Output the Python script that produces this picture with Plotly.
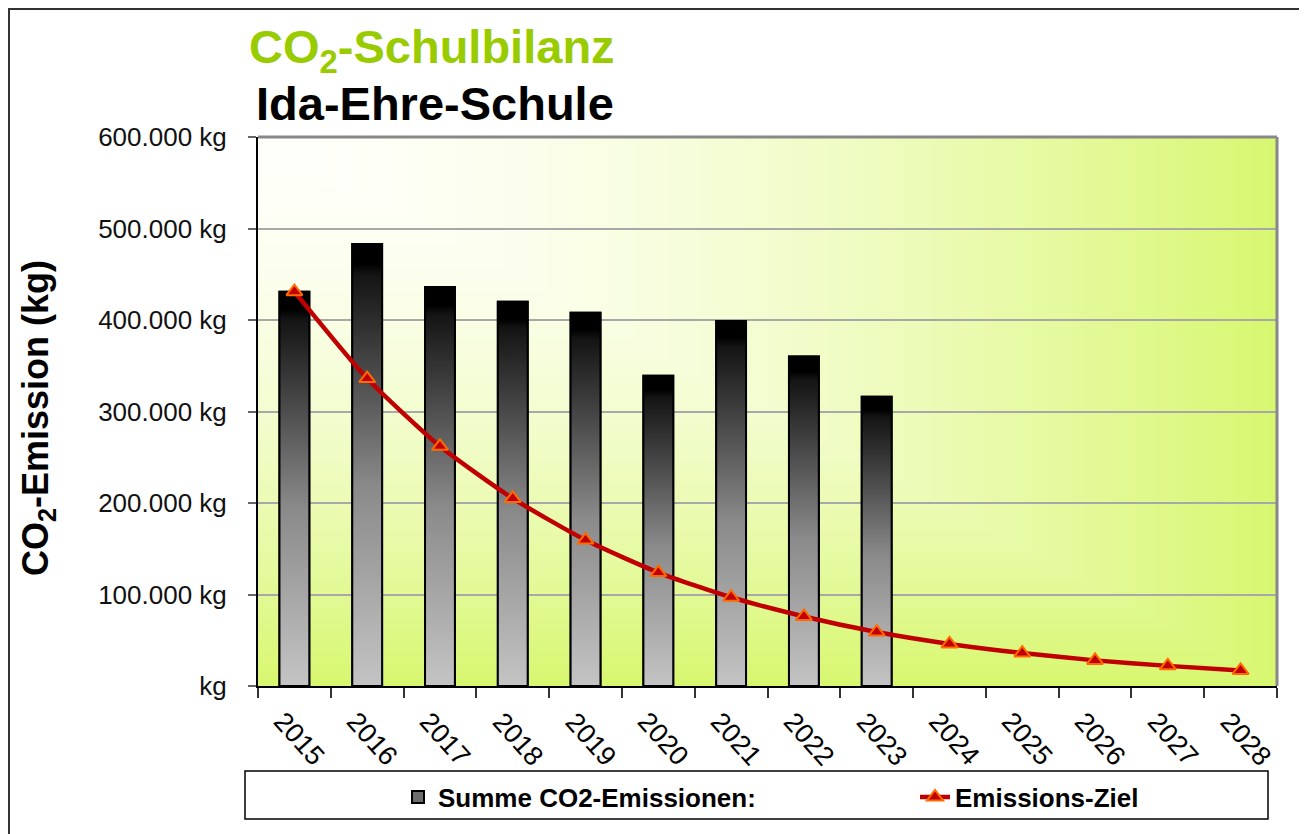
import base64, struct, zlib
import numpy as np
import plotly.graph_objects as go

# ---------------- data ----------------
years = [2015, 2016, 2017, 2018, 2019, 2020, 2021, 2022, 2023, 2024, 2025, 2026, 2027, 2028]
bar_years = [2015, 2016, 2017, 2018, 2019, 2020, 2021, 2022, 2023]
emissions = [431000, 483000, 436000, 420000, 408000, 339000, 399000, 360000, 316000]
target = [431000, 336000, 262000, 205000, 159500, 124000, 97000, 76000, 59000,
          46000, 36000, 28000, 22000, 17000]
y_tickvals = [0, 100000, 200000, 300000, 400000, 500000, 600000]
y_ticktext = ["kg", "100.000 kg", "200.000 kg", "300.000 kg", "400.000 kg", "500.000 kg", "600.000 kg"]
bar_name = "Summe CO2-Emissionen:"
line_name = "Emissions-Ziel"

BAR_W = 0.41
FONT = "Liberation Sans, Arial, sans-serif"

# ---------------- background gradient image (Excel 'from corner') ----------------
def make_png(arr):
    h, w, _ = arr.shape
    raw = b"".join(b"\x00" + arr[r].tobytes() for r in range(h))
    def chunk(t, d):
        c = struct.pack(">I", len(d)) + t + d
        return c + struct.pack(">I", zlib.crc32(t + d) & 0xffffffff)
    png = b"\x89PNG\r\n\x1a\n"
    png += chunk(b"IHDR", struct.pack(">IIBBBBB", w, h, 8, 2, 0, 0, 0))
    png += chunk(b"IDAT", zlib.compress(raw, 9))
    png += chunk(b"IEND", b"")
    return "data:image/png;base64," + base64.b64encode(png).decode()

IW, IH = 300, 160
gx = np.linspace(0, 1, IW)[None, :]
gy = np.linspace(0, 1, IH)[:, None]
t = np.maximum(gx, gy) ** 1.7
c0 = np.array([255, 255, 250], dtype=float)
c1 = np.array([216, 247, 112], dtype=float)
img = (c0[None, None, :] + (c1 - c0)[None, None, :] * t[:, :, None]).round().astype(np.uint8)
bg_src = make_png(img)

fig = go.Figure()

# bars (legend entry + base)
fig.add_trace(go.Bar(
    x=bar_years, y=emissions, width=BAR_W, name=bar_name, legend="legend",
    marker=dict(color="#6e6e6e", line=dict(color="black", width=2)),
    hoverinfo="x+y",
))

# gradient overlay for each bar
for yr, v in zip(bar_years, emissions):
    x0, x1 = yr - BAR_W / 2, yr + BAR_W / 2
    fig.add_trace(go.Scatter(
        x=[x0, x0, x1, x1, x0], y=[0, v, v, 0, 0],
        mode="lines", fill="toself",
        fillgradient=dict(type="vertical",
                          colorscale=[[0, "#c4c4c4"], [0.45, "#8a8a8a"], [0.93, "#141414"],
                                      [0.955, "#000000"], [1, "#000000"]],
                          start=0, stop=v),
        line=dict(color="black", width=2),
        showlegend=False, hoverinfo="skip",
    ))

# target line
fig.add_trace(go.Scatter(
    x=years, y=target, name=line_name, mode="lines+markers", legend="legend2",
    line=dict(color="#c00000", width=4.5, shape="spline", smoothing=0.6),
    marker=dict(symbol="triangle-up", size=14, color="#c00000",
                line=dict(color="#ff6a00", width=2)),
))

# ---------------- layout ----------------
OFF = 8  # page body margin of the html page
L, T = 258 - OFF, 137 - OFF
PW, PH = 1019, 549
R = 1307 - L - PW
B = 834 - T - PH

def px(xs):
    return (xs - OFF - L) / PW

def py(ys):
    return (T + PH - (ys - OFF)) / PH

shapes = [
    # outer frame
    dict(type="rect", xref="paper", yref="paper", x0=px(9), x1=px(1305), y0=py(850), y1=py(9),
         line=dict(color="#333333", width=2), fillcolor="rgba(0,0,0,0)", layer="below"),
    # plot area top/right gray border
    dict(type="line", xref="paper", yref="paper", x0=0, x1=1, y0=1, y1=1,
         line=dict(color="#888888", width=3)),
    dict(type="line", xref="paper", yref="paper", x0=1, x1=1, y0=0, y1=1,
         line=dict(color="#888888", width=3)),
    # legend frame
    dict(type="rect", xref="paper", yref="paper", x0=px(245), x1=px(1268), y0=py(819), y1=py(771),
         line=dict(color="black", width=1.5), fillcolor="rgba(0,0,0,0)"),
]

annotations = [
    dict(text="CO<sub>2</sub>-Schulbilanz", xref="paper", yref="paper", x=px(247), y=py(50),
         xanchor="left", yanchor="middle", showarrow=False,
         font=dict(family=FONT, size=47, color="#99cc00", weight="bold")),
    dict(text="Ida-Ehre-Schule", xref="paper", yref="paper", x=px(254), y=py(104),
         xanchor="left", yanchor="middle", showarrow=False,
         font=dict(family=FONT, size=47, color="black", weight="bold")),
    dict(text="CO<sub>2</sub>-Emission (kg)", xref="paper", yref="paper", x=px(38), y=py(418),
         xanchor="center", yanchor="middle", showarrow=False, textangle=-90,
         font=dict(family=FONT, size=36, color="black", weight="bold")),
]
for yr in years:
    annotations.append(dict(
        text=str(yr), x=yr, y=0, xref="x", yref="y", showarrow=False,
        xanchor="center", yanchor="middle", textangle=48, xshift=5, yshift=-53,
        font=dict(family=FONT, size=27, color="black")))

x_bounds = [yr - 0.5 for yr in years] + [years[-1] + 0.5]
legend_font = dict(family=FONT, size=26, color="black", weight="bold")

fig.update_layout(
    width=1307, height=834,
    margin=dict(l=L, r=R, t=T, b=B, autoexpand=False),
    paper_bgcolor="white",
    plot_bgcolor="rgba(0,0,0,0)",
    images=[dict(source=bg_src, xref="paper", yref="paper", x=0, y=1, sizex=1, sizey=1,
                 sizing="stretch", xanchor="left", yanchor="top", layer="below")],
    barmode="overlay",
    showlegend=True,
    legend=dict(orientation="h", x=px(398), y=py(797), xanchor="left", yanchor="middle",
                bgcolor="rgba(0,0,0,0)", borderwidth=0, font=legend_font),
    legend2=dict(orientation="h", x=px(915), y=py(797), xanchor="left", yanchor="middle",
                 bgcolor="rgba(0,0,0,0)", borderwidth=0, font=legend_font),
    xaxis=dict(range=[years[0] - 0.5, years[-1] + 0.5], tickvals=x_bounds,
               showticklabels=False, ticks="outside", ticklen=10, tickcolor="#333333",
               tickwidth=1.5, showgrid=False, zeroline=False,
               showline=True, linecolor="black", linewidth=2),
    yaxis=dict(range=[0, 600000], tickvals=y_tickvals, ticktext=y_ticktext,
               ticks="outside", ticklen=8, tickcolor="#666666", tickwidth=1.5,
               ticklabelstandoff=16,
               tickfont=dict(family=FONT, size=26, color="#111111"),
               showgrid=True, gridcolor="#a8a8a8", gridwidth=1.5, zeroline=False,
               showline=True, linecolor="black", linewidth=2),
    shapes=shapes,
    annotations=annotations,
)

fig.write_html("out.html")
